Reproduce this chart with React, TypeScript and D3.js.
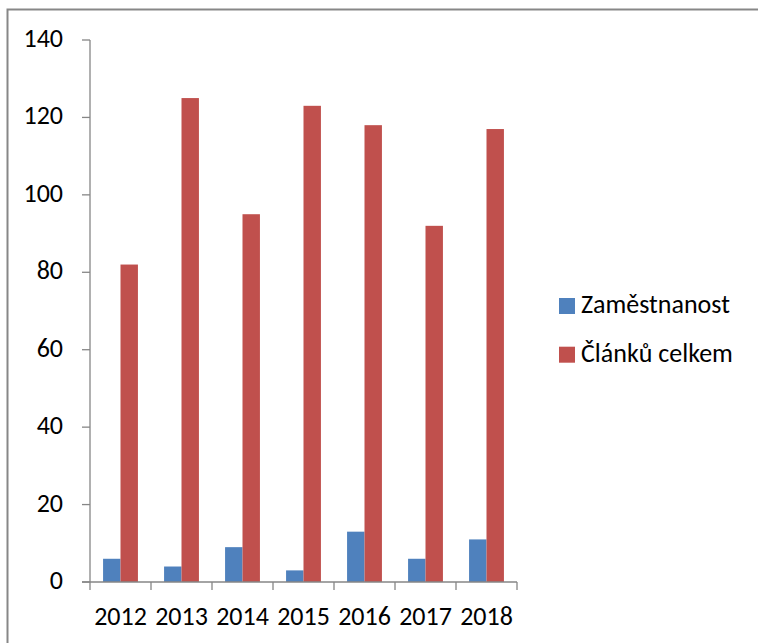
import React, { useEffect, useRef } from "react";
import * as d3 from "d3";

const categories = ["2012", "2013", "2014", "2015", "2016", "2017", "2018"];
const zamestnanost = [6, 4, 9, 3, 13, 6, 11];
const clankuCelkem = [82, 125, 95, 123, 118, 92, 117];
const seriesNames = ["Zaměstnanost", "Článků celkem"];
const seriesColors = ["#4F81BD", "#C0504D"];
const yTicks = [0, 20, 40, 60, 80, 100, 120, 140];

const W = 758;
const H = 643;
const FONT = "Carlito, Calibri, Lato, 'Open Sans', sans-serif";
const FS = 26;

export default function App() {
  const ref = useRef<SVGSVGElement>(null);

  useEffect(() => {
    const svg = d3.select(ref.current);
    svg.selectAll("*").remove();

    // outer border (cropped on right/bottom)
    svg.append("path")
      .attr("d", `M7.5,${H} L7.5,9.5 L${W},9.5`)
      .attr("fill", "none")
      .attr("stroke", "#878787")
      .attr("stroke-width", 2);

    const x0 = 90, x1 = 517;
    const yTop = 40, yBot = 582;
    const x = d3.scaleBand<string>().domain(categories).range([x0, x1]).paddingInner(0).paddingOuter(0);
    const y = d3.scaleLinear().domain([0, 140]).range([yBot, yTop]);
    // Excel gap width 150%
    const bw = x.bandwidth() / 3.5;
    const offs = (x.bandwidth() - 2 * bw) / 2;

    const series = [zamestnanost, clankuCelkem];
    series.forEach((vals, si) => {
      svg.append("g")
        .selectAll("rect")
        .data(vals)
        .join("rect")
        .attr("x", (_d, i) => (x(categories[i]) as number) + offs + si * bw)
        .attr("y", (d) => y(d))
        .attr("width", bw)
        .attr("height", (d) => yBot - y(d))
        .attr("fill", seriesColors[si]);
    });

    const axisColor = "#868686";
    // y axis
    svg.append("line")
      .attr("x1", x0).attr("x2", x0)
      .attr("y1", yTop).attr("y2", yBot + 8)
      .attr("stroke", axisColor).attr("stroke-width", 1.3);
    const yg = svg.append("g");
    yTicks.forEach((t) => {
      yg.append("line")
        .attr("x1", x0 - 8).attr("x2", x0)
        .attr("y1", y(t)).attr("y2", y(t))
        .attr("stroke", axisColor).attr("stroke-width", 1.3);
      yg.append("text")
        .attr("x", 63).attr("y", y(t) + 7)
        .attr("text-anchor", "end")
        .attr("font-family", FONT)
        .attr("font-size", FS)
        .attr("fill", "#000")
        .text(String(t));
    });

    // x axis
    svg.append("line")
      .attr("x1", x0 - 8).attr("x2", x1)
      .attr("y1", yBot).attr("y2", yBot)
      .attr("stroke", axisColor).attr("stroke-width", 1.3);
    const xg = svg.append("g");
    categories.forEach((c, i) => {
      const xs = x(c) as number;
      if (i > 0) {
        xg.append("line")
          .attr("x1", xs).attr("x2", xs)
          .attr("y1", yBot).attr("y2", yBot + 8)
          .attr("stroke", axisColor).attr("stroke-width", 1.3);
      }
      xg.append("text")
        .attr("x", xs + x.bandwidth() / 2)
        .attr("y", 625)
        .attr("text-anchor", "middle")
        .attr("font-family", FONT)
        .attr("font-size", FS)
        .attr("fill", "#000")
        .text(c);
    });
    xg.append("line")
      .attr("x1", x1).attr("x2", x1)
      .attr("y1", yBot).attr("y2", yBot + 8)
      .attr("stroke", axisColor).attr("stroke-width", 1.3);

    // legend
    const lg = svg.append("g");
    seriesNames.forEach((n, i) => {
      const ly = 298 + i * 48.7;
      lg.append("rect")
        .attr("x", 559).attr("y", ly)
        .attr("width", 16).attr("height", 16)
        .attr("fill", seriesColors[i]);
      lg.append("text")
        .attr("x", 581).attr("y", ly + 15)
        .attr("font-family", FONT)
        .attr("font-size", FS)
        .attr("fill", "#000")
        .text(n);
    });
  }, []);

  return (
    <svg
      ref={ref}
      width={W}
      height={H}
      style={{ position: "absolute", left: 0, top: 0, background: "#fff" }}
    />
  );
}
